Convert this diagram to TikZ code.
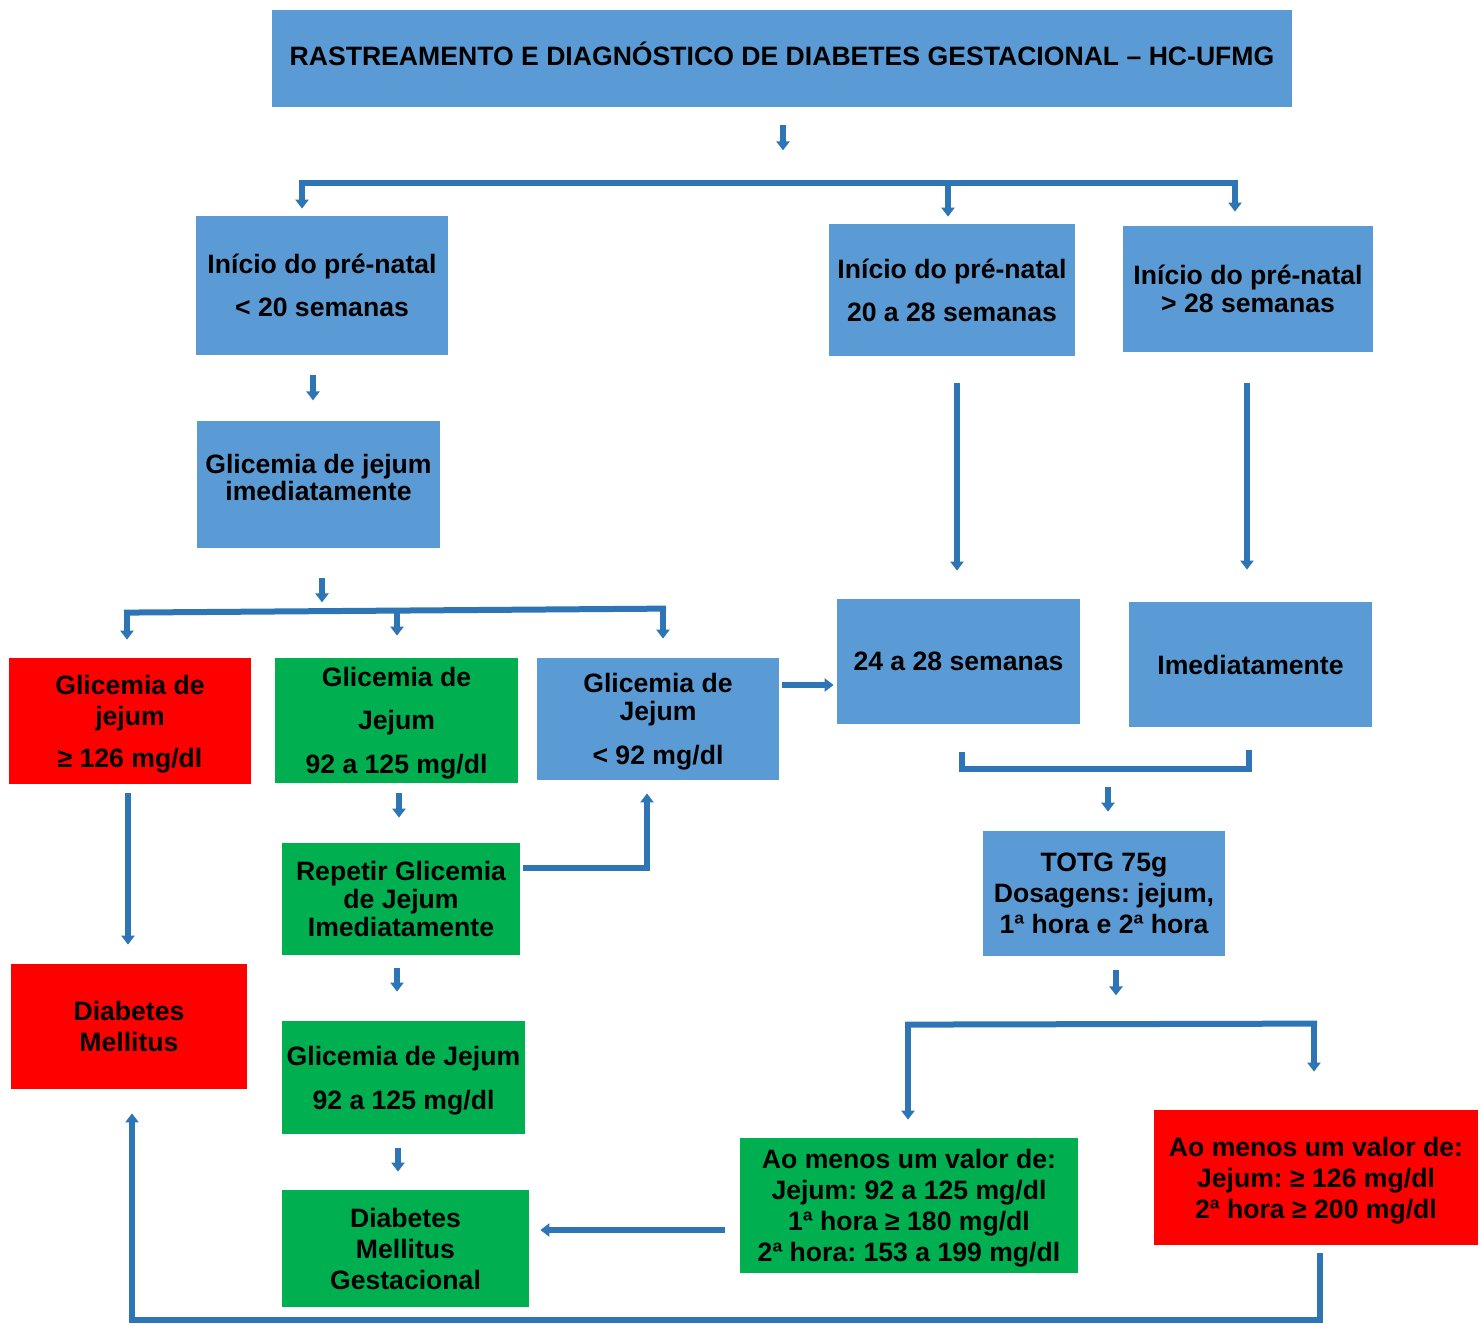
\documentclass[tikz,border=0pt]{standalone}
\usepackage{fontspec}
\setmainfont{Liberation Sans}
\usetikzlibrary{arrows.meta,calc}
\definecolor{boxblue}{HTML}{5B9BD5}
\definecolor{boxgreen}{HTML}{00B050}
\definecolor{boxred}{HTML}{FF0000}
\definecolor{arrblue}{HTML}{2E75B6}
\frenchspacing
\newcommand{\lowertext}{\mbox{}\\[-2.8pt]}
\begin{document}
\begin{tikzpicture}[x=0.5pt,y=-0.5pt,
  box/.style={rectangle, inner sep=0pt, align=center,
    font=\fontsize{13.3}{15.5}\selectfont\bfseries\frenchspacing},
  bluebox/.style={box, fill=boxblue},
  greenbox/.style={box, fill=boxgreen},
  redbox/.style={box, fill=boxred},
  conn/.style={draw=arrblue, line width=3pt, line join=miter},
  arr/.style={conn, -{Triangle[width=6.5pt 0 0, length=4.5pt 0 0]}}
]
\useasboundingbox (0,0) rectangle (1482,1323);
\fill[white] (0,0) rectangle (1482,1323);

% boxes
\node[bluebox, minimum width=510pt, minimum height=48.5pt] (title) at (782,58.5)
  {RASTREAMENTO E DIAGNÓSTICO DE DIABETES GESTACIONAL – HC-UFMG\\[-11pt]\mbox{}};
\node[bluebox, minimum width=126pt, minimum height=69.5pt] (a1) at (322,285.5)
  {Início do pré-natal\\[6pt] < 20 semanas};
\node[bluebox, minimum width=123pt, minimum height=66pt] (a2) at (952,290)
  {Início do pré-natal\\[6pt] 20 a 28 semanas};
\node[bluebox, minimum width=125pt, minimum height=63pt] (a3) at (1248,289)
  {Início do pré-natal\\[-1.5pt] > 28 semanas};
\node[bluebox, minimum width=121.5pt, minimum height=63.5pt] (b1) at (318.5,484.5)
  {Glicemia de jejum\\[-2pt] imediatamente\\[-8pt]\mbox{}};
\node[redbox, minimum width=121pt, minimum height=63pt] (c1) at (130,721)
  {\lowertext Glicemia de\\ jejum\\[5.5pt] ≥ 126 mg/dl};
\node[greenbox, minimum width=121.5pt, minimum height=62.5pt] (c2) at (396.5,720.5)
  {\lowertext Glicemia de\\[6pt] Jejum\\[6.5pt] 92 a 125 mg/dl};
\node[bluebox, minimum width=121pt, minimum height=61pt] (c3) at (658,719)
  {\lowertext Glicemia de\\[-1.5pt] Jejum\\[6.5pt] < 92 mg/dl};
\node[bluebox, minimum width=121.5pt, minimum height=62.5pt] (d1) at (958.5,661.5)
  {24 a 28 semanas};
\node[bluebox, minimum width=121.5pt, minimum height=62.5pt] (d2) at (1250.5,664.5)
  {Imediatamente};
\node[bluebox, minimum width=121pt, minimum height=62.5pt] (e) at (1104,893.5)
  {TOTG 75g\\ Dosagens: jejum,\\ 1ª hora e 2ª hora};
\node[greenbox, minimum width=169pt, minimum height=67.5pt] (f1) at (909,1205.5)
  {\lowertext Ao menos um valor de:\\ Jejum: 92 a 125 mg/dl\\ 1ª hora ≥ 180 mg/dl\\ 2ª hora: 153 a 199 mg/dl};
\node[redbox, minimum width=162pt, minimum height=67.5pt] (f2) at (1316,1177.5)
  {\lowertext Ao menos um valor de:\\ Jejum: ≥ 126 mg/dl\\ 2ª hora ≥ 200 mg/dl};
\node[redbox, minimum width=118pt, minimum height=62.5pt] (dm) at (129,1026.5)
  {Diabetes\\ Mellitus};
\node[greenbox, minimum width=119pt, minimum height=56pt] (g1) at (401,899)
  {Repetir Glicemia\\[-1.5pt] de Jejum\\[-1.5pt] Imediatamente};
\node[greenbox, minimum width=121.5pt, minimum height=56.5pt] (g2) at (403.5,1077.5)
  {\lowertext Glicemia de Jejum\\[6.5pt] 92 a 125 mg/dl};
\node[greenbox, minimum width=123.5pt, minimum height=58.5pt] (g3) at (405.5,1248.5)
  {Diabetes\\ Mellitus\\ Gestacional};

% title arrow and top bracket
\draw[arr] ($(title.south)+(1,18)$) -- ++(0,25);
\coordinate (tbl) at ($(a1.north)+(-20,-33)$);
\coordinate (tbr) at ($(a3.north)+(-13,-43)$);
\draw[conn] ([xshift=-1.5pt]tbl) -- ([xshift=1.5pt]tbr);
\draw[arr] (tbl) -- ($(a1.north)+(-20,-7)$);
\draw[arr] (tbr) -- ($(a3.north)+(-13,-14)$);
\draw[arr] ($(a2.north)+(-4,-38)$) -- ($(a2.north)+(-4,-7)$);

% left column
\draw[arr] ($(a1.south)+(-9,20)$) -- ++(0,25);
\draw[arr] ($(b1.south)+(3.5,30)$) -- ++(0,24);
\coordinate (bl) at ($(c1.north)+(-3,-45)$);
\coordinate (br) at ($(c3.north)+(5,-49)$);
\draw[conn] ([xshift=-1.5pt]bl) -- ([xshift=1.5pt]br);
\draw[arr] (bl) -- ($(c1.north)+(-3,-18)$);
\draw[arr] (br) -- ($(c3.north)+(5,-19)$);
\draw[arr] ($(c2.north)+(0.5,-47)$) -- ($(c2.north)+(0.5,-22)$);

\draw[arr] ($(c3.east)+(3,-34)$) -- ($(d1.west)+(-3,23.5)$);
\draw[arr] ($(c1.south)+(-2,9)$) -- ($(dm.north)+(-1,-19)$);
\draw[arr] ($(c2.south)+(2.5,10)$) -- ($(g1.north)+(-2,-25)$);
\draw[arr] ($(g1.east)+(3,-31)$) -| ($(c3.south)+(-11,13)$);
\draw[arr] ($(g1.south)+(-4,13)$) -- ($(g2.north)+(-6.5,-29)$);
\draw[arr] ($(g2.south)+(-5.5,14)$) -- ($(g3.north)+(-7.5,-18)$);

% right column
\draw[arr] ($(a2.south)+(5,27)$) -- ($(d1.north)+(-1.5,-28)$);
\draw[arr] ($(a3.south)+(-1,31)$) -- ($(d2.north)+(-3.5,-32)$);
\coordinate (dl) at ($(d1.south)+(3.5,28)$);
\coordinate (dr) at ($(d2.south)+(-1.5,23)$);
\draw[conn] (dl) -- ++(0,17) -| (dr);
\draw[arr] ($(e.north)+(4,-44)$) -- ($(e.north)+(4,-19)$);
\draw[arr] ($(e.south)+(12,14)$) -- ++(0,25);
\coordinate (el) at ($(f1.north)+(-1,-113)$);
\coordinate (er) at ($(f2.north)+(-2,-86)$);
\draw[conn] ([xshift=-1.5pt]el) -- ([xshift=1.5pt]er);
\draw[arr] (el) -- ($(f1.north)+(-1,-18)$);
\draw[arr] (er) -- ($(f2.north)+(-2,-38)$);

\draw[arr] ($(f1.west)+(-15,24.5)$) -- ($(g3.east)+(11,-18.5)$);
\draw[arr] ($(f2.south)+(4,8)$) -- ++(0,67) -| ($(dm.south)+(3,24)$);
\end{tikzpicture}
\end{document}
